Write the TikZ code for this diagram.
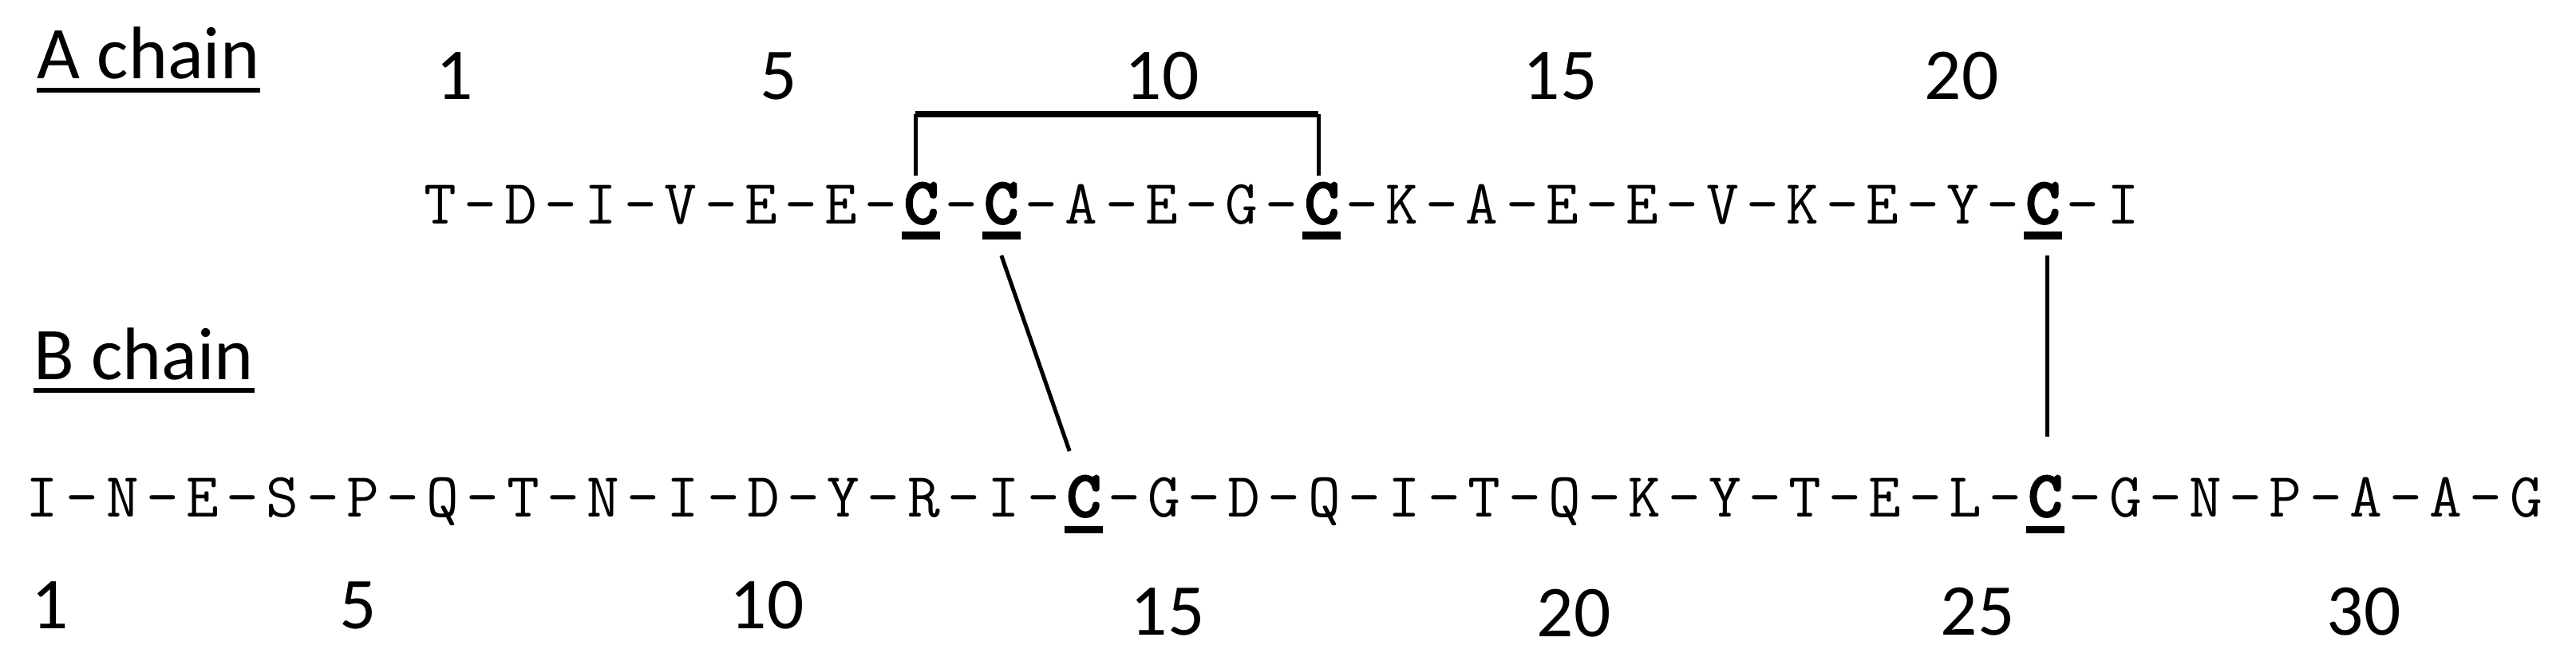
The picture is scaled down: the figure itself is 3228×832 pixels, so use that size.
\documentclass[tikz,border=0pt]{standalone}
\usepackage{fontspec}
\setmainfont{Carlito}
\newfontfamily\cysfont[FakeBold=2.5]{lmmonolt10-bold.otf}
\usetikzlibrary{calc}
\begin{document}
\begin{tikzpicture}[x=0.01cm,y=-0.01cm,
  res/.style={inner sep=0pt, anchor=base, font=\ttfamily\fontsize{22.5}{27}\selectfont},
  cys/.style={inner sep=0pt, anchor=base, font=\cysfont\fontsize{23.5}{27}\selectfont},
  num/.style={inner sep=0pt, anchor=base, font=\fontsize{26}{30}\selectfont},
  lab/.style={inner sep=0pt, anchor=base west, font=\fontsize{26.5}{30}\selectfont},
  bond/.style={line width=1.42pt},
  bar/.style={line width=2pt},
  ul/.style={line width=1.7pt}]
\useasboundingbox (0,0) rectangle (3228,832);
% labels
\node[lab] (alab) at (46,98) {A chain};
\node[lab] (blab) at (42,475) {B chain};
\draw[ul] ($(alab.base west)+(0,15)$) -- ($(alab.base east)+(0,15)$);
\draw[ul] ($(blab.base west)+(0,14)$) -- ($(blab.base east)+(0,14)$);
% A chain
\foreach \r [count=\i] in {T,D,I,V,E,E,C,C,A,E,G,C,K,A,E,E,V,K,E,Y,C,I} {
  \if C\r
    \node[cys] (a\i) at ({552+(\i-1)*100.4},280) {\r};
  \else
    \node[res] (a\i) at ({552+(\i-1)*100.4},280) {\r};
  \fi
}
\foreach \i in {1,...,21} \node[res] (ad\i) at ({552+(\i-0.5)*100.4},280) {-};
% B chain
\foreach \r [count=\i] in {I,N,E,S,P,Q,T,N,I,D,Y,R,I,C,G,D,Q,I,T,Q,K,Y,T,E,L,C,G,N,P,A,A,G} {
  \if C\r
    \node[cys] (b\i) at ({53+(\i-1)*100.4},647) {\r};
  \else
    \node[res] (b\i) at ({53+(\i-1)*100.4},647) {\r};
  \fi
}
\foreach \i in {1,...,31} \node[res] (bd\i) at ({53+(\i-0.5)*100.4},647) {-};
% underlines of cysteines
\foreach \i in {7,8,12,21} \fill ($(a\i.base)+(-24,10)$) rectangle ($(a\i.base)+(24,20)$);
\foreach \i in {14,26} \fill ($(b\i.base)+(-24,12)$) rectangle ($(b\i.base)+(24,21)$);
% numbering
\node[num] (na1) at (570,124) {1};
\node[num] (na5) at (976,124) {5};
\node[num] (na10) at (1456,124) {10};
\node[num] (na15) at (1955,124) {15};
\node[num] (na20) at (2458,124) {20};
\node[num] (nb1) at (63,787) {1};
\node[num] (nb5) at (449,787) {5};
\node[num] (nb10) at (961,787) {10};
\node[num] (nb15) at (1463,795) {15};
\node[num] (nb20) at (1972,797) {20};
\node[num] (nb25) at (2478,795) {25};
\node[num] (nb30) at (2962,795) {30};
% disulfide bonds
\draw[bond] ($(a7.base)+(-7,-60)$) -- ($(a7.base)+(-7,-137)$);
\draw[bond] ($(a12.base)+(-4,-60)$) -- ($(a12.base)+(-4,-137)$);
\draw[bar] ($(a7.base)+(-7,-137)$) -- ($(a12.base)+(-4,-137)$);
\draw[bond] ($(a8.base)+(0,40)$) -- ($(b14.base)+(-18,-82)$);
\draw[bond] ($(a21.base)+(5,40)$) -- ($(b26.base)+(2,-100)$);
\end{tikzpicture}
\end{document}
